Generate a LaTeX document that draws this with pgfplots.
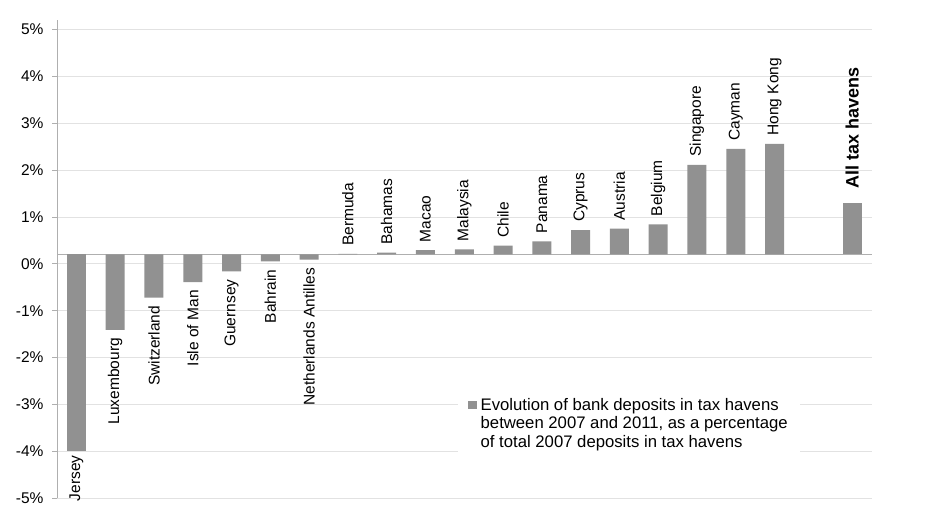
\documentclass[border=0pt]{standalone}
\usepackage{pgfplots}
\pgfplotsset{compat=1.18}
\usepackage{pgfplotstable}
\usepackage{fontspec}
\setmainfont{Liberation Sans}
\definecolor{barcol}{RGB}{145,145,145}
\definecolor{gridcol}{RGB}{226,226,226}
\definecolor{axcol}{RGB}{175,175,175}

% bars that point down from the category axis
\pgfplotstableread[col sep=comma]{
idx,val,name
1,-1.41,Luxembourg
2,-0.72,Switzerland
3,-0.39,Isle of Man
4,-0.16,Guernsey
5,0.05,Bahrain
6,0.09,Netherlands Antilles
}\down
% bars that point up from the category axis
\pgfplotstableread[col sep=comma]{
idx,val,name
7,0.21,Bermuda
8,0.24,Bahamas
9,0.29,Macao
10,0.31,Malaysia
11,0.39,Chile
12,0.48,Panama
13,0.72,Cyprus
14,0.75,Austria
15,0.84,Belgium
16,2.11,Singapore
17,2.45,Cayman
18,2.56,Hong Kong
}\up

\pgfplotsset{
  mybar/.style={ybar, bar width=0.49, bar shift=0pt, fill=barcol, draw=none},
}
\tikzset{lblfont/.style={font=\fontsize{15.5}{18}\selectfont, text=black}}

\begin{document}
\begin{tikzpicture}
\useasboundingbox (0,0) rectangle (933pt,518pt);
\begin{axis}[
  at={(57pt,19.7pt)}, anchor=south west,
  scale only axis, width=814.5pt, height=478.3pt,
  xmin=-0.5, xmax=20.5, ymin=-5.2, ymax=5.0,
  y filter/.expression={y-0.2},
  axis lines*=left,
  x axis line style={draw=none},
  y axis line style={draw=axcol, line width=0.8pt},
  xtick=\empty,
  ytick={-5.2,-4.2,-3.2,-2.2,-1.2,-0.2,0.8,1.8,2.8,3.8,4.8},
  yticklabels={-5\%,-4\%,-3\%,-2\%,-1\%,0\%,1\%,2\%,3\%,4\%,5\%},
  tick align=outside,
  major tick length=5pt,
  ytick style={draw=axcol, line width=0.8pt},
  ymajorgrids,
  grid style={draw=gridcol, line width=0.8pt},
  extra y ticks={0},
  extra y tick labels={},
  extra y tick style={grid style={draw=axcol, line width=0.8pt}, major tick length=0pt},
  clip=false,
  yticklabel style={font=\fontsize{15.5}{18}\selectfont, text=black, xshift=-5pt},
  legend style={at={(0.4923,0.2264)}, anchor=north west, draw=none, fill=white,
    font=\fontsize{16.7}{18.6}\selectfont, cells={align=left}, inner xsep=10pt, inner ysep=6pt},
  legend image code/.code={\fill[barcol] (0pt,14.35pt) rectangle (8.5pt,22.85pt); \path (10.5pt,0pt);},
  legend cell align=left,
]
\addplot[mybar, point meta=explicit symbolic, nodes near coords,
  nodes near coords style={rotate=90, anchor=west, inner xsep=8pt, inner ysep=0pt, lblfont}]
  table[x=idx, y=val, meta=name]{\up};
\addlegendentry{Evolution of bank deposits in tax havens\\between 2007 and 2011, as a percentage\\of total 2007 deposits in tax havens}
\addplot[mybar, forget plot, point meta=explicit symbolic, nodes near coords,
  nodes near coords style={rotate=90, anchor=east, inner xsep=8pt, inner ysep=0pt, lblfont}]
  table[x=idx, y=val, meta=name]{\down};
\addplot[mybar, forget plot, nodes near coords={Jersey},
  nodes near coords style={rotate=90, anchor=east, inner xsep=4pt, inner ysep=0pt, lblfont}]
  coordinates {(0,-4.00)};
\addplot[mybar, forget plot, nodes near coords={\textbf{All tax havens}},
  nodes near coords style={rotate=90, anchor=west, inner xsep=14pt, inner ysep=0pt,
    font=\fontsize{18}{20}\selectfont, text=black}]
  coordinates {(20,1.30)};
\end{axis}
\end{tikzpicture}
\end{document}
